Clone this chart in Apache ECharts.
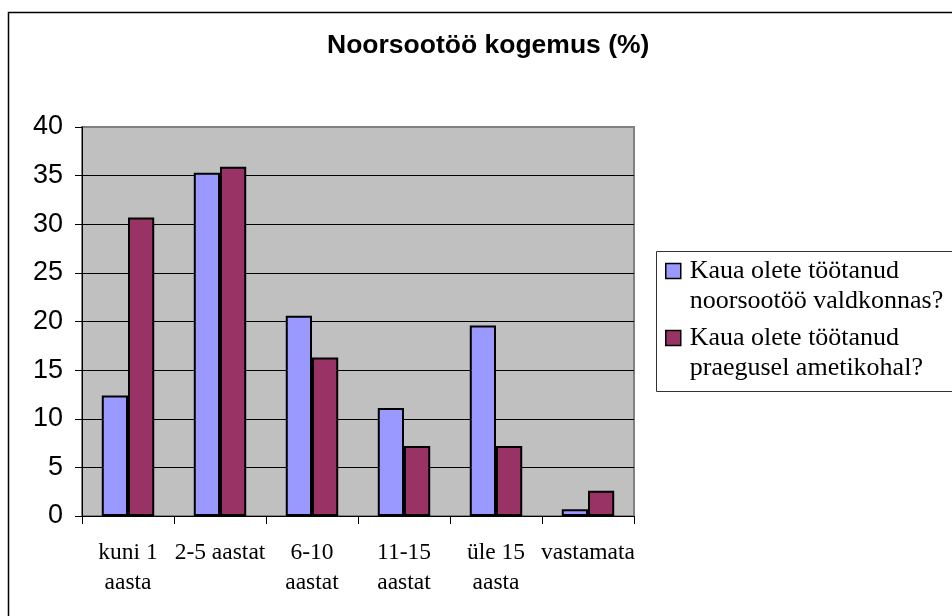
<!DOCTYPE html>
<html>
<head>
<meta charset="utf-8">
<script src="https://cdn.jsdelivr.net/npm/echarts@6/dist/echarts.min.js"></script>
<style>
html,body{margin:0;padding:0;background:#fff;}
#chart{width:952px;height:616px;}
</style>
</head>
<body>
<div id="chart"></div>
<script>
const titleText = 'Noorsootöö kogemus (%)';
const categories = ['kuni 1\naasta', '2-5 aastat', '6-10\naastat', '11-15\naastat', 'üle 15\naasta', 'vastamata'];
const seriesNames = ['Kaua olete töötanud\nnoorsootöö valdkonnas?', 'Kaua olete töötanud\npraegusel ametikohal?'];
const valdkonnas = [12.4, 35.3, 20.6, 11.1, 19.6, 0.7];
const ametikohal = [30.7, 35.9, 16.3, 7.2, 7.2, 2.6];
const yTicks = {min: 0, max: 40, interval: 5};
const colors = ['#9999FF', '#993366'];

const chart = echarts.init(document.getElementById('chart'), null, {renderer: 'canvas'});
const sans = '"Liberation Sans", Arial, sans-serif';
const serif = '"Liberation Serif", "Times New Roman", serif';

chart.setOption({
  backgroundColor: '#ffffff',
  animation: false,
  title: {
    text: titleText,
    left: 327,
    top: 32,
    padding: 0,
    textStyle: {fontFamily: sans, fontWeight: 'bold', fontSize: 26.5, color: '#000'}
  },
  legend: {
    orient: 'vertical',
    left: 665,
    top: 226,
    padding: 0,
    icon: 'rect',
    itemWidth: 15,
    itemHeight: 15,
    itemGap: -23,
    selectedMode: false,
    itemStyle: {borderColor: '#000', borderWidth: 1.5},
    formatter: function (name) {
      const parts = name.split('\n');
      return '{s| }\n{t|' + parts[0] + '}\n{t|' + parts[1] + '}';
    },
    textStyle: {
      fontFamily: serif, fontSize: 26, color: '#000', lineHeight: 30,
      padding: [0, 0, 0, 4],
      rich: {
        s: {fontFamily: serif, fontSize: 26, lineHeight: 30},
        t: {fontFamily: serif, fontSize: 26, lineHeight: 30, color: '#000'}
      }
    },
    data: seriesNames
  },
  grid: {
    left: 82, right: 318, top: 127, bottom: 100,
    show: true, backgroundColor: '#C0C0C0', borderColor: '#808080', borderWidth: 2
  },
  xAxis: {
    type: 'category',
    data: categories,
    axisLine: {lineStyle: {color: '#000', width: 1}},
    axisTick: {show: true, length: 8, lineStyle: {color: '#000'}},
    axisLabel: {
      fontFamily: serif, fontSize: 23.5, color: '#000', lineHeight: 30, margin: 22, interval: 0
    }
  },
  yAxis: {
    type: 'value',
    min: yTicks.min, max: yTicks.max, interval: yTicks.interval,
    axisLine: {show: true, lineStyle: {color: '#000', width: 1}},
    axisTick: {show: true, length: 7, lineStyle: {color: '#000'}},
    axisLabel: {fontFamily: sans, fontSize: 27, color: '#000', margin: 19},
    splitLine: {show: true, showMaxLine: false, lineStyle: {color: '#000', width: 1}}
  },
  graphic: [
    {type: 'rect', silent: true, z: 100,
     shape: {x: 8.5, y: 12.5, width: 1000, height: 700},
     style: {fill: 'none', stroke: '#000', lineWidth: 1.5}},
    {type: 'rect', silent: true, z: 100,
     shape: {x: 656.5, y: 251.5, width: 400, height: 140},
     style: {fill: 'none', stroke: '#333', lineWidth: 1}}
  ],
  series: [
    {
      name: seriesNames[0], type: 'bar', data: valdkonnas,
      barGap: '0%', barCategoryGap: '43%',
      itemStyle: {color: colors[0], borderColor: '#000', borderWidth: 2}
    },
    {
      name: seriesNames[1], type: 'bar', data: ametikohal,
      barGap: '0%', barCategoryGap: '43%',
      itemStyle: {color: colors[1], borderColor: '#000', borderWidth: 2}
    }
  ]
});
</script>
</body>
</html>
